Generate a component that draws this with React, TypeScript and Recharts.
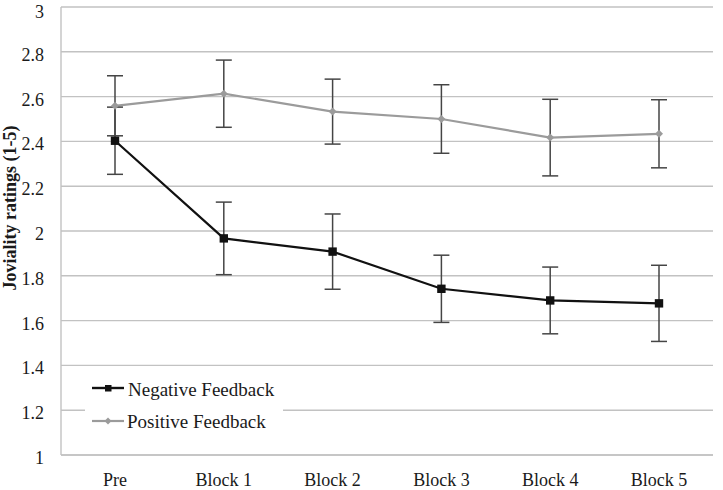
import React from "react";
import {
  LineChart,
  Line,
  XAxis,
  YAxis,
  CartesianGrid,
  ErrorBar,
  Legend,
} from "recharts";

// Mean joviality ratings per block, with error bar half-widths
const blocks = ["Pre", "Block 1", "Block 2", "Block 3", "Block 4", "Block 5"];
const negativeMeans = [2.403, 1.967, 1.908, 1.742, 1.69, 1.677];
const negativeErrors = [0.15, 0.162, 0.168, 0.15, 0.149, 0.17];
const positiveMeans = [2.559, 2.613, 2.533, 2.5, 2.417, 2.434];
const positiveErrors = [0.134, 0.15, 0.145, 0.153, 0.171, 0.152];
const yTicks = [1, 1.2, 1.4, 1.6, 1.8, 2, 2.2, 2.4, 2.6, 2.8, 3];

const data = blocks.map((name, i) => ({
  name,
  negative: negativeMeans[i],
  negativeErr: negativeErrors[i],
  positive: positiveMeans[i],
  positiveErr: positiveErrors[i],
}));

const FONT = "'Liberation Serif', 'Times New Roman', Times, serif";
const GRID = "#c2c2c2";
const NEG = "#111111";
const POS = "#9b9b9b";
const ERR = "#454545";
const TEXT = "#1a1a1a";

const SquareDot = (props: any) => {
  const { cx, cy } = props;
  if (cx == null || cy == null) return null;
  return <rect x={cx - 4.2} y={cy - 4.2} width={8.4} height={8.4} fill={NEG} />;
};

const DiamondDot = (props: any) => {
  const { cx, cy } = props;
  if (cx == null || cy == null) return null;
  const r = 4;
  return (
    <polygon
      points={`${cx},${cy - r} ${cx + r},${cy} ${cx},${cy + r} ${cx - r},${cy}`}
      fill={POS}
    />
  );
};

const XTick = (props: any) => {
  const { x, y, payload } = props;
  return (
    <text x={x} y={y + 13} textAnchor="middle" style={{ fontFamily: FONT, fontSize: 18 }} fill={TEXT}>
      {payload.value}
    </text>
  );
};

const YTick = (props: any) => {
  const { x, y, payload } = props;
  return (
    <text x={x} y={y + 9} textAnchor="end" style={{ fontFamily: FONT, fontSize: 18 }} fill={TEXT}>
      {String(payload.value)}
    </text>
  );
};

const LegendBox = () => (
  <svg width={198} height={88} style={{ display: "block" }}>
    <rect x={0} y={0} width={198} height={88} fill="#ffffff" />
    <line x1={7} y1={22} x2={39} y2={22} stroke={NEG} strokeWidth={2.4} />
    <rect x={20} y={19} width={6.5} height={6.5} fill={NEG} />
    <text x={43} y={30} style={{ fontFamily: FONT, fontSize: 19 }} fill={TEXT}>
      Negative Feedback
    </text>
    <line x1={7} y1={55} x2={39} y2={55} stroke={POS} strokeWidth={2.2} />
    <polygon points="23,51.5 26.5,55 23,58.5 19.5,55" fill={POS} />
    <text x={42} y={62} style={{ fontFamily: FONT, fontSize: 19 }} fill={TEXT}>
      Positive Feedback
    </text>
  </svg>
);

export default function App() {
  return (
    <div style={{ position: "absolute", left: 0, top: 0, width: 723, height: 490, background: "#fff" }}>
      <LineChart
        width={723}
        height={490}
        data={data}
        margin={{ top: 7, right: 10, bottom: 0, left: 0 }}
      >
        <CartesianGrid vertical={false} stroke={GRID} strokeWidth={1.4} />
        <XAxis
          dataKey="name"
          height={35}
          padding={{ left: 54, right: 54 }}
          axisLine={{ stroke: GRID, strokeWidth: 1.4 }}
          tickLine={false}
          tickSize={6}
          tickMargin={12}
          tick={<XTick />}
          interval={0}
        />
        <YAxis
          width={61}
          domain={[1, 3]}
          ticks={yTicks}
          allowDataOverflow
          axisLine={{ stroke: GRID, strokeWidth: 1.4 }}
          tickLine={false}
          tickSize={6}
          tickMargin={11}
          tick={<YTick />}
          label={{
            content: () => (
              <text
                x={16}
                y={208}
                transform="rotate(-90 16 208)"
                textAnchor="middle"
                style={{ fontFamily: FONT, fontSize: 18, fontWeight: "bold" }}
                fill={TEXT}
              >
                Joviality ratings (1-5)
              </text>
            ),
          }}
        />
        <Legend
          layout="vertical"
          align="center"
          verticalAlign="middle"
          content={() => <LegendBox />}
          wrapperStyle={{ position: "absolute", left: 85, top: 366, width: 198, height: 88 }}
        />
        <Line
          dataKey="positive"
          stroke={POS}
          strokeWidth={2.2}
          dot={<DiamondDot />}
          activeDot={false}
          isAnimationActive={false}
        >
          <ErrorBar dataKey="positiveErr" width={8} stroke={ERR} strokeWidth={1.5} direction="y" />
        </Line>
        <Line
          dataKey="negative"
          stroke={NEG}
          strokeWidth={2.2}
          dot={<SquareDot />}
          activeDot={false}
          isAnimationActive={false}
        >
          <ErrorBar dataKey="negativeErr" width={8} stroke={ERR} strokeWidth={1.5} direction="y" />
        </Line>
      </LineChart>
    </div>
  );
}
